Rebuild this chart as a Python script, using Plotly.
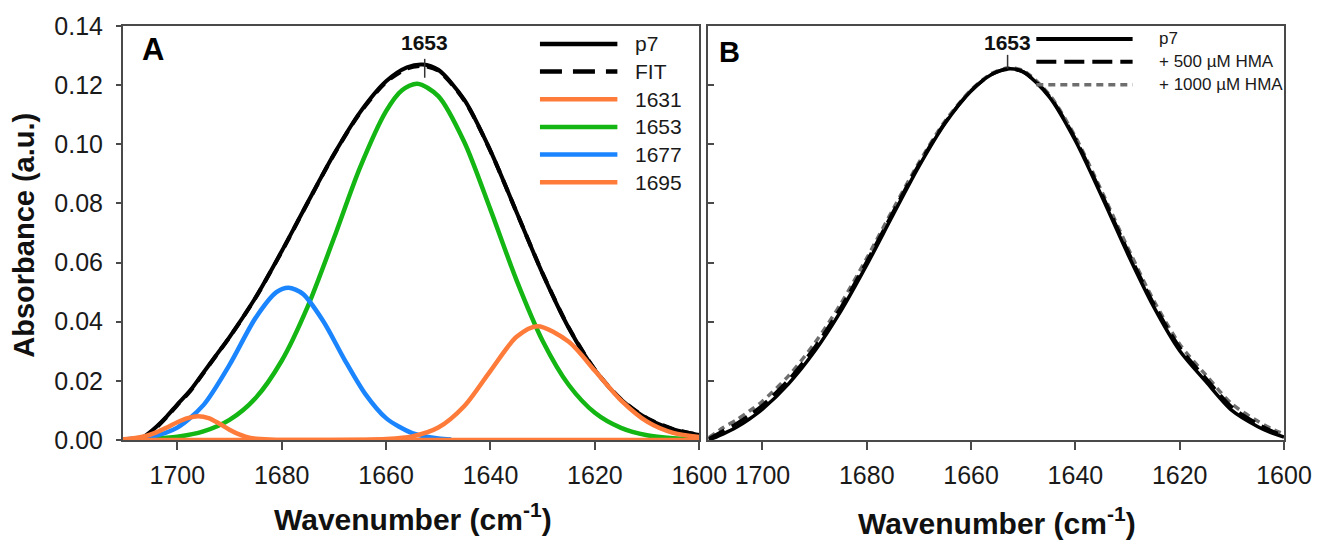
import plotly.graph_objects as go

# ---------------- data ----------------
# Panel A
wn_p7_A = [1710.5, 1707.5, 1706, 1704, 1702, 1700, 1697.5, 1695, 1692.5, 1690, 1685, 1680, 1675, 1670,
           1665, 1660, 1656, 1653, 1650, 1645, 1640, 1635, 1630, 1625, 1620, 1615, 1610, 1605, 1602, 1600]
abs_p7_A = [0.0000, 0.0000, 0.0016, 0.0045, 0.0080, 0.0120, 0.0168, 0.0228, 0.0288, 0.0348, 0.0482, 0.0638,
            0.0804, 0.0966, 0.1108, 0.1213, 0.1260, 0.1270, 0.1252, 0.1150, 0.0978, 0.0770, 0.0562, 0.0379,
            0.0237, 0.0137, 0.0073, 0.0036, 0.0024, 0.0017]
abs_fit_A = [0.0000, 0.0000, 0.0014, 0.0042, 0.0078, 0.0118, 0.0166, 0.0226, 0.0287, 0.0347, 0.0481, 0.0637,
             0.0803, 0.0965, 0.1106, 0.1210, 0.1256, 0.1265, 0.1249, 0.1148, 0.0977, 0.0770, 0.0563, 0.0380,
             0.0238, 0.0138, 0.0074, 0.0037, 0.0024, 0.0017]

wn_1653 = [1710.5, 1705, 1700, 1695, 1690, 1685, 1680, 1675, 1670, 1665, 1660, 1657, 1654, 1650, 1645,
           1640, 1635, 1630, 1625, 1620, 1615, 1610, 1605, 1600]
abs_1653 = [0.0001, 0.0004, 0.0011, 0.0029, 0.0068, 0.0142, 0.0268, 0.0452, 0.0682, 0.0921, 0.1112, 0.1182,
            0.1205, 0.1163, 0.1007, 0.0779, 0.0540, 0.0335, 0.0186, 0.0092, 0.0041, 0.0016, 0.0006, 0.0002]

wn_1677 = [1710.5, 1705, 1700, 1695, 1690, 1685, 1681, 1678.7, 1676, 1672, 1668, 1664, 1660, 1655, 1650, 1647.5]
abs_1677 = [0.0002, 0.0011, 0.0042, 0.0118, 0.0254, 0.0413, 0.0500, 0.0515, 0.0495, 0.0401, 0.0273, 0.0156,
            0.0074, 0.0023, 0.0005, 0.0002]

wn_1631 = [1710.5, 1690, 1675, 1665, 1660, 1655, 1650, 1645, 1640, 1635, 1631, 1625, 1620, 1615, 1610, 1605, 1600]
abs_1631 = [0.0, 0.0, 0.0, 0.0001, 0.0003, 0.0012, 0.0042, 0.0115, 0.0234, 0.0349, 0.0385, 0.0332, 0.0234,
            0.0134, 0.0062, 0.0024, 0.0010]

wn_1695 = [1710.5, 1708, 1706, 1704, 1702, 1700, 1698, 1696, 1694, 1692, 1690, 1688, 1686, 1684, 1681,
           1670, 1650, 1630, 1600]
abs_1695 = [0.0002, 0.0007, 0.0014, 0.0026, 0.0042, 0.0060, 0.0074, 0.0080, 0.0074, 0.0056, 0.0035, 0.0018,
            0.0007, 0.0003, 0.0, 0.0, 0.0, 0.0, 0.0]

# Panel B
wn_B = [1710.3, 1707.5, 1705, 1702.5, 1700, 1695, 1690, 1685, 1680, 1675, 1670, 1665, 1660, 1656, 1653,
        1650, 1645, 1640, 1635, 1630, 1625, 1620, 1615, 1610, 1605, 1602.5, 1600]
abs_B_p7 = [0.0000, 0.0021, 0.0043, 0.0071, 0.0104, 0.0190, 0.0300, 0.0435, 0.0592, 0.0760, 0.0925, 0.1070,
            0.1180, 0.1237, 0.1255, 0.1245, 0.1160, 0.1012, 0.0826, 0.0631, 0.0451, 0.0302, 0.0198, 0.0100,
            0.0045, 0.0025, 0.0010]
abs_B_500 = [0.0004, 0.0031, 0.0055, 0.0084, 0.0117, 0.0203, 0.0313, 0.0447, 0.0603, 0.0769, 0.0931, 0.1073,
             0.1181, 0.1237, 0.1254, 0.1245, 0.1163, 0.1018, 0.0834, 0.0641, 0.0461, 0.0313, 0.0209, 0.0111,
             0.0054, 0.0032, 0.0015]
abs_B_1000 = [0.0008, 0.0042, 0.0068, 0.0098, 0.0131, 0.0217, 0.0327, 0.0460, 0.0615, 0.0779, 0.0938, 0.1078,
              0.1184, 0.1240, 0.1258, 0.1249, 0.1168, 0.1025, 0.0843, 0.0652, 0.0472, 0.0324, 0.0220, 0.0122,
              0.0063, 0.0039, 0.0020]

legend_A_labels = ["p7", "FIT", "1631", "1653", "1677", "1695"]
legend_B_labels = ["p7", "+ 500 \u00b5M HMA", "+ 1000 \u00b5M HMA"]
peak_label = "1653"
x_ticks = [1700, 1680, 1660, 1640, 1620, 1600]
y_ticks = [0.00, 0.02, 0.04, 0.06, 0.08, 0.10, 0.12, 0.14]

# ---------------- styles ----------------
ORANGE = "#FF7B3A"
GREEN = "#14B614"
BLUE = "#1A85FF"
BLACK = "#000000"
GRAY = "#6E6E6E"
AXC = "#4a4a4a"
FONT = "Liberation Sans, Arial, sans-serif"

W, H = 1324, 548
L, R, T, B = 123, 1292.5, 24, 440


def px(xp):
    return (xp - L) / (R - L)


def py(yp):
    return (B - yp) / (B - T)


fig = go.Figure()


def add(x, y, color, width, dash="solid", xa="x", ya="y", name=""):
    fig.add_trace(go.Scatter(x=x, y=y, mode="lines", name=name, xaxis=xa, yaxis=ya,
                             line=dict(color=color, width=width, dash=dash, shape="spline", smoothing=0.8),
                             showlegend=False, hoverinfo="skip"))


# Panel A traces
add(wn_p7_A, abs_fit_A, BLACK, 4, "12px,8px", name="FIT")
add(wn_p7_A, abs_p7_A, BLACK, 4, name="p7")
add(wn_1653, abs_1653, GREEN, 4.5, name="1653")
add(wn_1677, abs_1677, BLUE, 4.5, name="1677")
add(wn_1631, abs_1631, ORANGE, 4.5, name="1631")
add(wn_1695, abs_1695, ORANGE, 4.5, name="1695")

# Panel B traces
add(wn_B, abs_B_1000, GRAY, 3.5, "7px,5px", "x2", "y2", name="+ 1000 µM HMA")
add(wn_B, abs_B_500, BLACK, 3.5, "18px,8px", "x2", "y2", name="+ 500 µM HMA")
add(wn_B, abs_B_p7, BLACK, 3.5, "solid", "x2", "y2", name="p7")

xr = [1710.4, 1600]
yr = [0, 0.14]
tickfont = dict(family=FONT, size=25, color="#1a1a1a")

axis_common = dict(showline=True, linecolor=AXC, linewidth=2, mirror=True, showgrid=False,
                   zeroline=False, ticks="outside", tickcolor=AXC, tickwidth=1.5)

fig.update_layout(
    width=W, height=H,
    margin=dict(l=L, r=W - R, t=T, b=H - B),
    paper_bgcolor="white", plot_bgcolor="white",
    showlegend=False,
    xaxis=dict(domain=[0, px(703.5)], range=xr, tickvals=x_ticks, ticklen=8, tickfont=tickfont,
               anchor="y", ticklabelstandoff=4, **axis_common),
    yaxis=dict(domain=[0, 1], range=yr, tickvals=y_ticks, tickformat=".2f", ticklen=5, tickfont=tickfont,
               anchor="x", ticklabelstandoff=8, **axis_common),
    xaxis2=dict(domain=[px(712.5), 1], range=xr, tickvals=x_ticks, ticklen=8, tickfont=tickfont,
                anchor="y2", ticklabelstandoff=4, **axis_common),
    yaxis2=dict(domain=[0, 1], range=yr, tickvals=y_ticks, showticklabels=False, anchor="x2",
                **{**axis_common, "ticks": "inside"}, ticklen=6),
)

ann = []
shapes = []

# panel letters
ann.append(dict(text="<b>A</b>", x=px(153), y=py(48), xref="paper", yref="paper", showarrow=False,
                font=dict(family=FONT, size=31, color="black"), xanchor="center", yanchor="middle"))
ann.append(dict(text="<b>B</b>", x=px(734), y=py(50), xref="paper", yref="paper", showarrow=False,
                font=dict(family=FONT, size=29, color="black"), xanchor="center", yanchor="middle"))

# peak labels + tick marks
ann.append(dict(text="<b>%s</b>" % peak_label, x=1652.6, y=py(41), xref="x", yref="paper", showarrow=False,
                font=dict(family=FONT, size=21, color="#111"), xanchor="center", yanchor="middle"))
shapes.append(dict(type="line", xref="x", yref="paper", x0=1652.6, x1=1652.6, y0=py(57), y1=py(76),
                   line=dict(color="#333", width=1.5)))
ann.append(dict(text="<b>%s</b>" % peak_label, x=1653.0, y=py(41), xref="x2", yref="paper", showarrow=False,
                font=dict(family=FONT, size=21, color="#111"), xanchor="center", yanchor="middle"))
shapes.append(dict(type="line", xref="x2", yref="paper", x0=1653.0, x1=1653.0, y0=py(53), y1=py(67),
                   line=dict(color="#333", width=1.5)))

# axis titles
ann.append(dict(text="<b>Absorbance (a.u.)</b>", x=px(23), y=py(234), xref="paper",
                yref="paper", showarrow=False, textangle=-90,
                font=dict(family=FONT, size=29, color="#111"), xanchor="center", yanchor="middle"))
ann.append(dict(text="<b>Wavenumber (cm<sup>-1</sup>)</b>", x=px(415), y=py(517), xref="paper", yref="paper",
                showarrow=False, font=dict(family=FONT, size=30, color="#111"),
                xanchor="center", yanchor="middle"))
ann.append(dict(text="<b>Wavenumber (cm<sup>-1</sup>)</b>", x=px(1003), y=py(521), xref="paper", yref="paper",
                showarrow=False, font=dict(family=FONT, size=30, color="#111"),
                xanchor="center", yanchor="middle"))

# legend A (drawn manually)
legA_styles = [(BLACK, "solid"), (BLACK, "22px,11px"), (ORANGE, "solid"), (GREEN, "solid"),
               (BLUE, "solid"), (ORANGE, "solid")]
for i, (lab, (c, d)) in enumerate(zip(legend_A_labels, legA_styles)):
    yy = 42 + i * 27.8
    shapes.append(dict(type="line", xref="paper", yref="paper", x0=px(543), x1=px(621), y0=py(yy), y1=py(yy),
                       line=dict(color=c, width=4.5, dash=d)))
    ann.append(dict(text=lab, x=px(637), y=py(yy), xref="paper", yref="paper", showarrow=False,
                    font=dict(family=FONT, size=21, color="#1a1a1a"), xanchor="left", yanchor="middle"))

# legend B
legB_styles = [(BLACK, "solid", 4), (BLACK, "20px,8px", 4), (GRAY, "7px,5px", 3.5)]
for i, (lab, (c, d, w)) in enumerate(zip(legend_B_labels, legB_styles)):
    yy = 37 + i * 23
    shapes.append(dict(type="line", xref="paper", yref="paper", x0=px(1043), x1=px(1140), y0=py(yy), y1=py(yy),
                       line=dict(color=c, width=w, dash=d)))
    ann.append(dict(text=lab, x=px(1165), y=py(yy), xref="paper", yref="paper", showarrow=False,
                    font=dict(family=FONT, size=17, color="#1a1a1a"), xanchor="left", yanchor="middle"))

fig.update_layout(annotations=ann, shapes=shapes)
fig.write_html("out.html",
               config={"responsive": False, "displayModeBar": False, "staticPlot": False},
               post_script="document.body.style.margin='0';document.body.style.overflow='hidden';")
